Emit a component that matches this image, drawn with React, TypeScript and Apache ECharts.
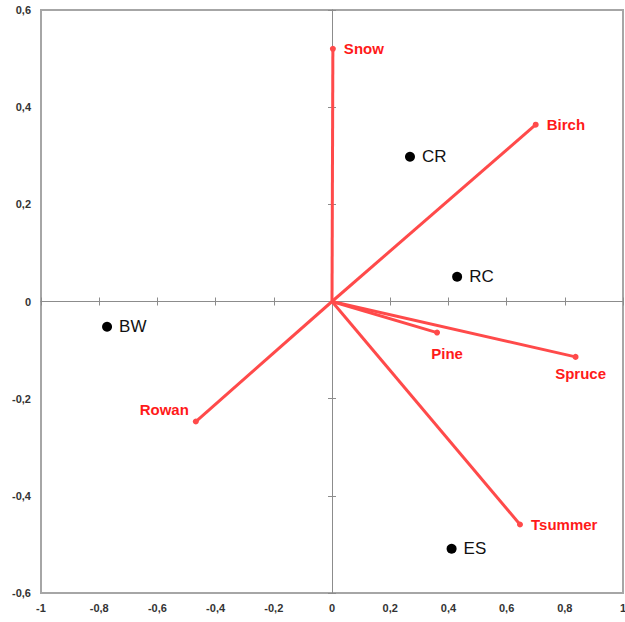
import React, { useEffect, useRef } from "react";
import * as echarts from "echarts";

// Sample points (black)
const siteNames = ["CR", "RC", "BW", "ES"];
const siteX = [0.268, 0.43, -0.773, 0.411];
const siteY = [0.298, 0.051, -0.052, -0.509];

// Vectors (red)
const vecNames = ["Snow", "Birch", "Pine", "Spruce", "Rowan", "Tsummer"];
const vecX = [0.003, 0.7, 0.361, 0.837, -0.468, 0.646];
const vecY = [0.52, 0.364, -0.064, -0.114, -0.247, -0.459];

const xTicks = { min: -1, max: 1, interval: 0.2 };
const yTicks = { min: -0.6, max: 0.6, interval: 0.2 };

const vecLabelPos: any[] = [
  { position: "right", distance: 8, offset: [0, 0] },
  { position: "right", distance: 8, offset: [0, 0] },
  { position: "bottom", distance: 10, offset: [10, 0] },
  { position: "bottom", distance: 6, offset: [5, 0] },
  { position: "left", distance: 4, offset: [0, -12] },
  { position: "right", distance: 8, offset: [0, 0] },
];

const fmt = (v: number) => {
  const r = Math.round(v * 10) / 10;
  return String(r).replace(".", ",");
};

export default function App() {
  const ref = useRef<HTMLDivElement>(null);
  useEffect(() => {
    if (!ref.current) return;
    const chart = echarts.init(ref.current, undefined, { renderer: "svg" });
    const red = "#ff4a4a";
    const labelFont = { fontFamily: "Liberation Sans", fontWeight: "bold", fontSize: 11, color: "#333" };
    const baseX = { type: "value", ...xTicks, splitLine: { show: false } };
    const baseY = { type: "value", ...yTicks, splitLine: { show: false } };
    const zeroLine = { show: true, onZero: true, lineStyle: { color: "#8c8c8c", width: 1 } };
    const vecSeries = vecNames.map((n, i) => ({
      type: "line",
      xAxisIndex: 0,
      yAxisIndex: 0,
      name: n,
      z: 5,
      lineStyle: { color: red, width: 3 },
      itemStyle: { color: red },
      data: [
        { value: [0, 0], symbol: "none", label: { show: false } },
        {
          value: [vecX[i], vecY[i]],
          symbol: "circle",
          symbolSize: 6,
          label: {
            show: true,
            formatter: n,
            ...vecLabelPos[i],
            color: "#ff1a1a",
            fontFamily: "Liberation Sans",
            fontWeight: "bold",
            fontSize: 15,
          },
        },
      ],
    }));
    chart.setOption({
      animation: false,
      backgroundColor: "#fff",
      grid: {
        left: 41,
        right: 2,
        top: 10,
        bottom: 29,
        outerBoundsMode: "none",
        containLabel: false,
        show: true,
        borderColor: "#a6a6a6",
        borderWidth: 2,
        backgroundColor: "transparent",
      },
      xAxis: [
        {
          ...baseX,
          position: "bottom",
          axisLine: { show: false, onZero: false },
          axisTick: { show: false },
          axisLabel: { ...labelFont, margin: 9, formatter: fmt },
        },
        {
          ...baseX,
          position: "bottom",
          axisLine: zeroLine,
          axisTick: { show: true, length: 4, inside: false, lineStyle: { color: "#8c8c8c" } },
          axisLabel: { show: false },
        },
        {
          ...baseX,
          position: "bottom",
          axisLine: zeroLine,
          axisTick: { show: true, length: 4, inside: true, lineStyle: { color: "#8c8c8c" } },
          axisLabel: { show: false },
        },
      ],
      yAxis: [
        {
          ...baseY,
          position: "left",
          axisLine: { show: false, onZero: false },
          axisTick: { show: false },
          axisLabel: { ...labelFont, margin: 10, formatter: fmt },
        },
        {
          ...baseY,
          position: "left",
          axisLine: zeroLine,
          axisTick: { show: true, length: 4, inside: false, lineStyle: { color: "#8c8c8c" } },
          axisLabel: { show: false },
        },
        {
          ...baseY,
          position: "left",
          axisLine: zeroLine,
          axisTick: { show: true, length: 4, inside: true, lineStyle: { color: "#8c8c8c" } },
          axisLabel: { show: false },
        },
      ],
      series: [
        ...vecSeries,
        {
          type: "scatter",
          xAxisIndex: 0,
          yAxisIndex: 0,
          z: 6,
          symbol: "circle",
          symbolSize: 10,
          itemStyle: { color: "#000", opacity: 1 },
          label: {
            show: true,
            position: "right",
            distance: 7,
            formatter: (p: any) => siteNames[p.dataIndex],
            color: "#111",
            fontFamily: "Liberation Sans",
            fontSize: 17,
          },
          data: siteX.map((x, i) => [x, siteY[i]]),
        },
      ],
    });
    return () => chart.dispose();
  }, []);
  return <div ref={ref} style={{ width: 625, height: 622, position: "absolute", left: 0, top: 0 }} />;
}
